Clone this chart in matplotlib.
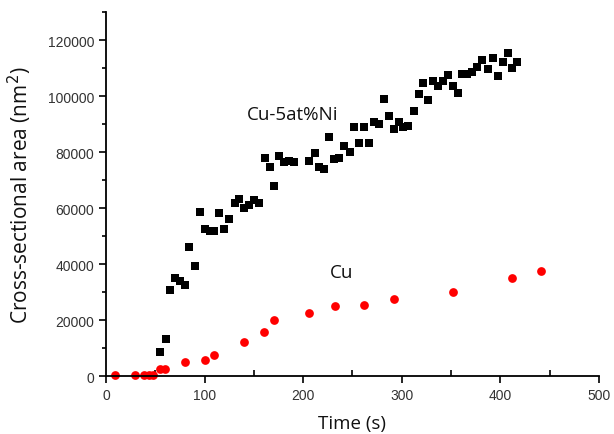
import matplotlib
matplotlib.use("Agg")
import matplotlib.pyplot as plt
from matplotlib.ticker import MultipleLocator

# Cu-5at%Ni (black squares)
t_cuni = [55, 60.5, 65, 70, 75, 80, 84.5, 90, 95, 100, 105, 110, 115, 120, 125,
          130.5, 135, 140, 145, 150, 155.5, 161, 166, 170, 175.5, 180.5, 185.5,
          190.5, 206, 212, 216.5, 221.5, 226.5, 231, 236.5, 241, 247, 251.5, 257,
          261.5, 266.5, 271.5, 276.5, 282, 287, 291.8, 296.8, 301.5, 306.6, 312,
          317, 322, 327, 332, 336.7, 341.8, 346.5, 352, 357, 361, 365.8, 371, 376,
          381.6, 387.4, 392.5, 397.6, 402.3, 407.4, 412, 417]
a_cuni = [8700, 13200, 30700, 34900, 34000, 32500, 46200, 39300, 58600, 52400,
          51700, 51900, 58200, 52400, 56100, 61800, 63100, 60000, 61200, 62700,
          61900, 77900, 74800, 67800, 78700, 76300, 76700, 76300, 76800, 79500,
          74500, 73900, 85300, 77500, 78000, 82300, 80100, 89100, 83400, 89100,
          83200, 90900, 89900, 99100, 93000, 88200, 90600, 88800, 89400, 94600,
          100800, 104600, 98700, 105500, 103500, 105500, 107400, 103500, 101100,
          108000, 108000, 108700, 110500, 113000, 109500, 113600, 107300, 112000,
          115400, 110000, 112000]

# Cu (red circles)
t_cu = [9.5, 29.5, 39, 43.5, 48, 55, 60, 80.5, 100, 110, 140, 160, 170, 206,
        232, 262, 292, 352, 412, 441.5]
a_cu = [300, 300, 300, 300, 300, 2500, 2400, 5100, 5700, 7600, 12300, 15800,
        19900, 22400, 24900, 25400, 27400, 29900, 34900, 37500]

fig = plt.figure(figsize=(6.14, 4.35), dpi=100)
ax = fig.add_axes([0.1726, 0.1333, 0.803, 0.8367])

ax.plot(t_cuni, a_cuni, linestyle='none', marker='s', markersize=5.3,
        markeredgewidth=0, color='black', clip_on=False)
ax.plot(t_cu, a_cu, linestyle='none', marker='o', markersize=6.3,
        markeredgewidth=0, color='#ff0000', clip_on=False)

ax.set_xlim(0, 500)
ax.set_ylim(0, 130000)
ax.set_yticks(range(0, 130000, 20000))
ax.xaxis.set_major_locator(MultipleLocator(100))
ax.xaxis.set_minor_locator(MultipleLocator(50))
ax.yaxis.set_minor_locator(MultipleLocator(10000))

for s in ['top', 'right']:
    ax.spines[s].set_visible(False)
for s in ['left', 'bottom']:
    ax.spines[s].set_linewidth(1.3)

ax.tick_params(axis='both', which='major', length=5, width=1.2,
               labelsize=10, labelcolor='#333333')
ax.tick_params(axis='x', which='minor', direction='in', length=4, width=1.2)
ax.tick_params(axis='y', which='minor', direction='out', length=3, width=1.2)

lab_font = ['Open Sans', 'DejaVu Sans']
ax.set_xlabel('Time (s)', fontsize=13.5, family=lab_font, color='#111111',
              labelpad=9)
ax.set_ylabel('Cross-sectional area (nm$^2$)', fontsize=15, family=lab_font,
              color='#111111', labelpad=10)

ax.text(189, 93600, 'Cu-5at%Ni', fontsize=13.5, family=lab_font,
        ha='center', va='center', color='#111111')
ax.text(239, 37100, 'Cu', fontsize=13.5, family=lab_font,
        ha='center', va='center', color='#111111')

for lbl in ax.get_xticklabels() + ax.get_yticklabels():
    lbl.set_family(['Liberation Sans', 'DejaVu Sans'])

fig.savefig('out.png', dpi=100)
